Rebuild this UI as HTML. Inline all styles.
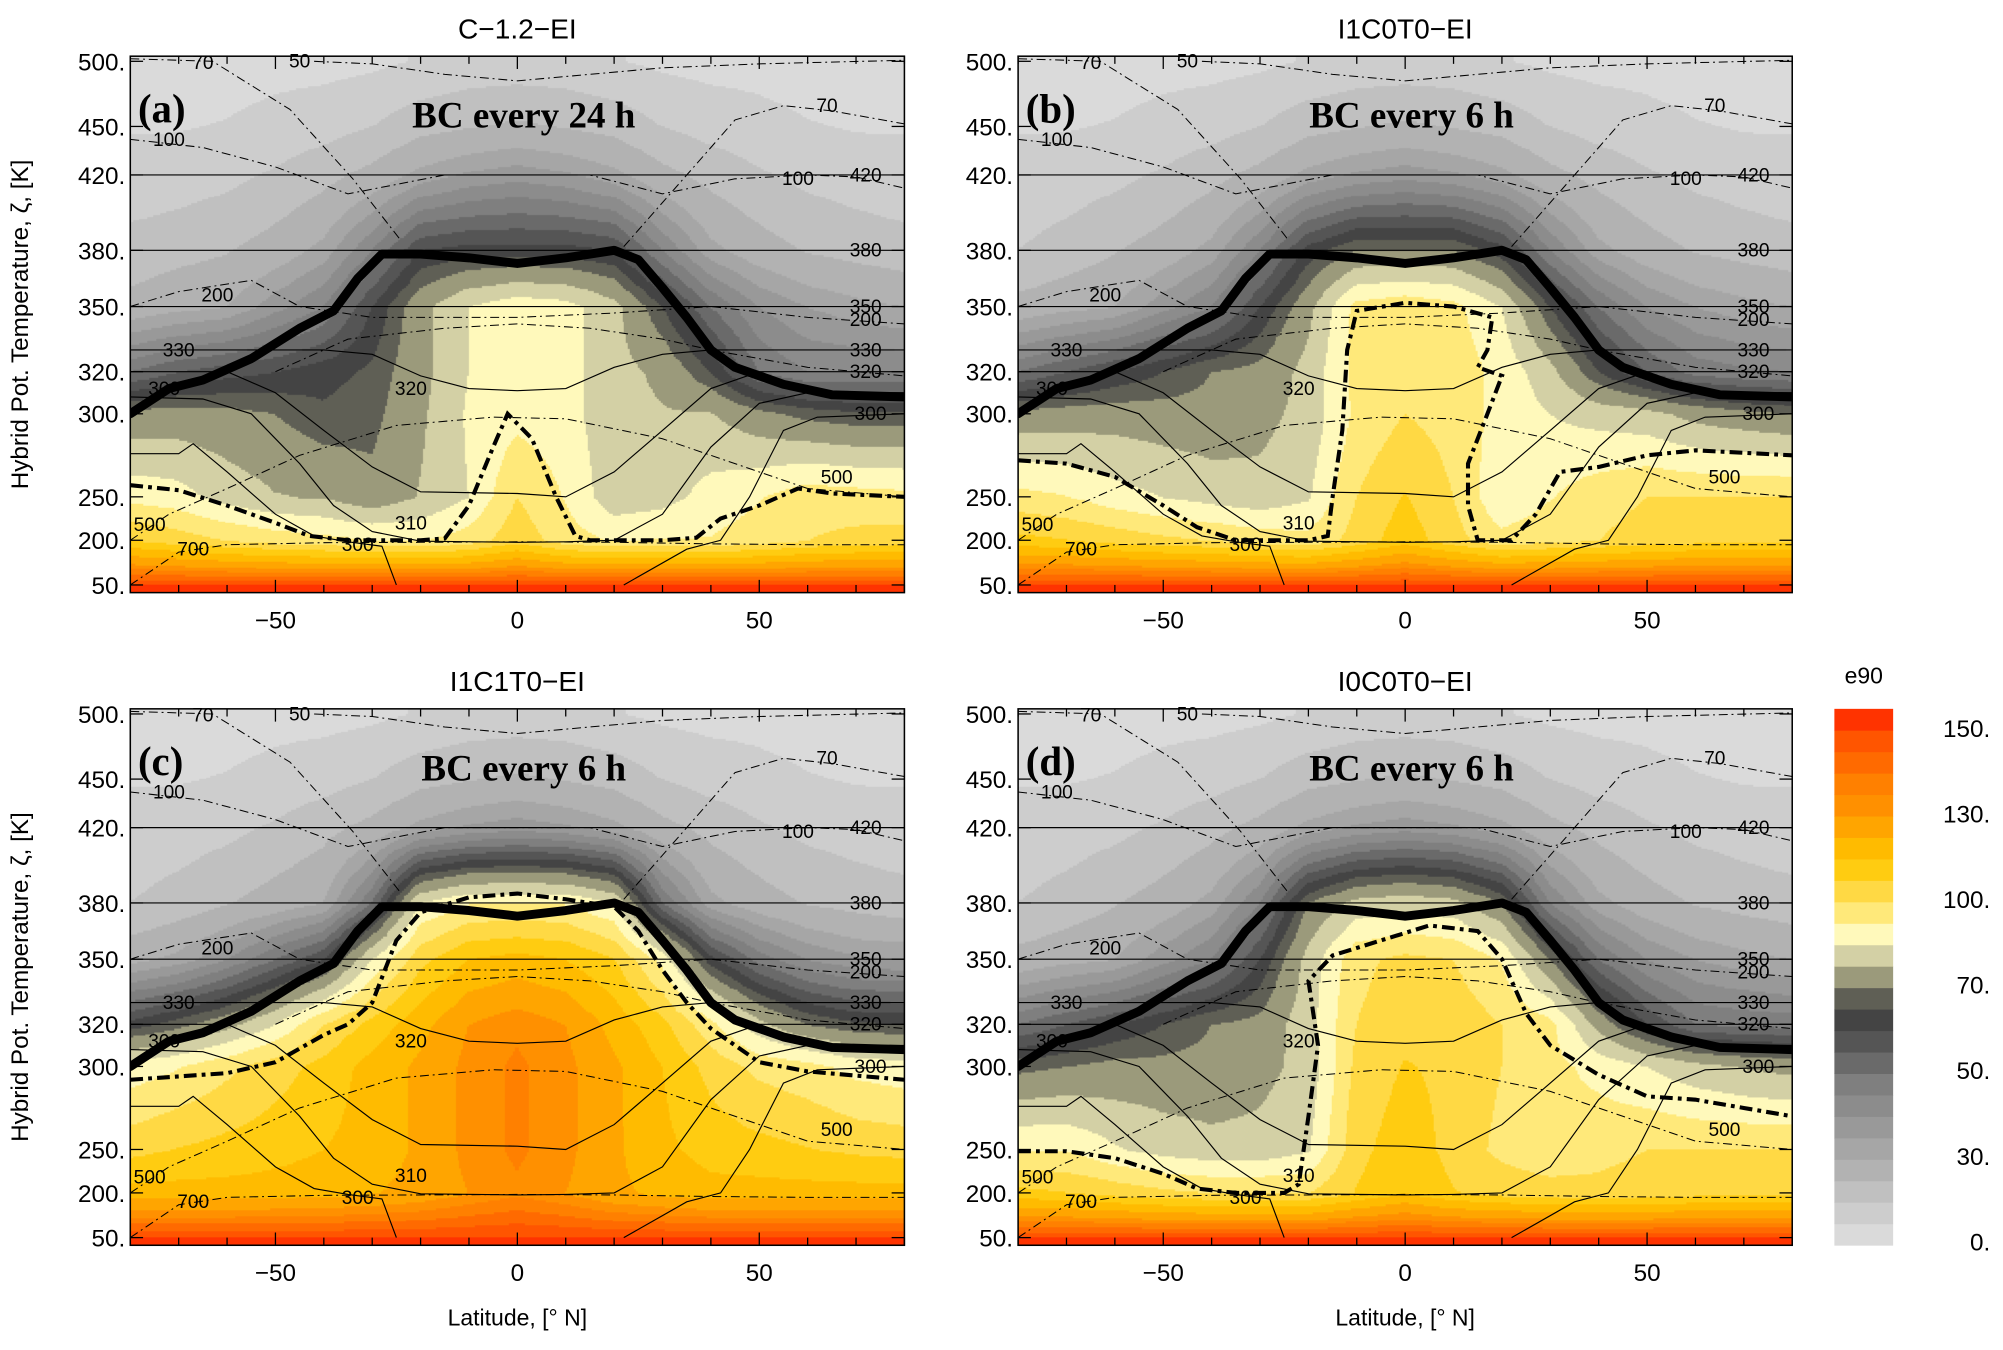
<!DOCTYPE html>
<html><head><meta charset="utf-8"><style>
html,body{margin:0;padding:0;background:#fff;}
#outer{width:2003px;height:1350px;overflow:hidden;position:relative;}
#inner{position:absolute;left:0;top:0;width:1568px;height:1057px;transform:scale(1.27742,1.27720);transform-origin:0 0;}
canvas{position:absolute;}
svg{position:absolute;left:0;top:0;}
</style></head><body>
<div id="outer"><div id="inner">
<canvas id="ca" width="775" height="537" style="left:102px;top:44px;width:606px;height:420px"></canvas>
<canvas id="cb" width="775" height="537" style="left:797px;top:44px;width:606px;height:420px"></canvas>
<canvas id="cc" width="775" height="537" style="left:102px;top:555px;width:606px;height:420px"></canvas>
<canvas id="cd" width="775" height="537" style="left:797px;top:555px;width:606px;height:420px"></canvas>
<svg id="ov" width="1568" height="1057" viewBox="0 0 1568 1057"></svg>
</div></div>
<script>
// ---- data ----
const lats=[-80,-70,-60,-50,-40,-30,-20,-10,0,10,20,30,40,50,60,70,80];
const zetaLevels=[50,200,250,300,320,350,380,420,450,500];
const rowTop500=[4,4,4,5,5,6,8,10,10,10,8,6,5,5,4,4,4];
const rowTop450=[7,7,8,10,12,15,20,22,24,22,20,15,12,10,8,7,7];
const rowTop420=[10,11,13,16,20,25,32,36,38,36,32,25,20,16,13,11,10];
const row50=[150,150,150,150,150,150,150,150,150,150,150,150,150,150,150,150,150];
const fieldA=[
row50,
[108,104,100,97,95,93,92,96,105,96,92,93,93,96,100,102,103],
[90,88,82,78,77,72,78,85,100,92,80,82,88,92,97,96,95],
[72,73,72,70,66,68,76,86,90,88,80,78,78,72,68,66,66],
[50,55,58,60,63,66,75,85,90,88,80,76,65,50,45,45,45],
[25,28,30,38,45,60,75,85,90,88,80,65,50,40,35,32,30],
[18,20,22,26,32,45,60,62,62,62,60,45,32,26,22,20,18],
rowTop420,rowTop450,rowTop500];
const fieldB=[
row50,
[110,108,105,102,100,97,95,103,112,103,95,98,100,103,105,105,105],
[95,93,88,85,82,80,84,100,108,100,86,92,97,100,100,100,100],
[72,73,74,73,72,75,80,94,100,97,90,85,82,80,75,72,70],
[50,55,60,65,70,72,80,95,100,97,90,80,65,55,48,46,45],
[25,28,30,38,45,60,75,95,98,95,85,65,50,40,35,32,30],
[15,18,22,26,32,45,62,70,70,70,62,45,32,26,22,20,18],
rowTop420,rowTop450,rowTop500];
const fieldC=[
row50,
[118,118,118,119,120,122,125,130,134,130,124,121,118,118,118,118,118],
[105,108,110,112,115,118,124,132,136,132,124,117,112,110,108,106,105],
[88,92,98,104,110,118,124,132,136,132,124,115,105,98,95,90,88],
[62,68,75,85,100,110,120,130,134,130,120,110,95,80,70,66,65],
[28,32,40,50,60,85,105,115,118,115,108,90,62,48,40,36,35],
[15,18,22,26,30,50,85,92,92,92,85,50,32,26,22,20,18],
rowTop420,rowTop450,rowTop500];
const fieldD=[
row50,
[110,108,105,102,100,100,100,108,115,108,105,103,102,103,105,105,105],
[92,92,86,82,80,80,84,105,112,105,98,95,98,100,100,100,100],
[68,70,72,72,72,75,80,102,108,106,100,95,90,85,80,77,75],
[50,55,60,65,70,72,82,100,105,105,100,95,75,60,50,49,48],
[25,28,30,38,45,60,80,98,102,100,92,70,50,40,35,32,30],
[15,18,22,26,32,45,70,80,82,80,70,45,32,26,22,20,18],
rowTop420,rowTop450,rowTop500];
const levels=[0,7.5,15,22.5,30,35,40,45,50,55,60,65,70,77.5,85,92.5,100,107.5,115,122.5,130,135,140,145,150];
const levelColors=['#dadada','#cdcdcd','#c0c0c0','#b2b2b2','#a6a6a6','#999999','#8c8c8c','#7f7f7f','#6a6a6a','#555555','#444444','#5f5f55','#9b9a7b','#d3d0a5','#fff9bb','#ffe97a','#ffd944','#ffcc11','#ffbb00','#ffa500','#ff9000','#ff8000','#ff6a00','#ff5500','#ff3300'];
const tropLat=[-80,-72,-65,-55,-45,-38,-33,-28,-20,-10,0,10,20,25,30,35,40,45,55,65,80];
const tropZeta=[300,312,316,326,340,348,365,378,378,376,373,376,380,375,360,345,330,322,314,309,308];
const e90aLat=[-80,-70,-60,-50,-43,-35,-20,-15,-10,-5,-2,3,8,12,15,30,37,42,50,58,65,80];
const e90aZeta=[257,254,240,220,205,200,200,202,240,280,300,285,250,205,200,200,203,225,240,255,252,250];
const e90bLat=[-80,-70,-60,-50,-43,-35,-20,-16,-15,-13,-12,-10,0,10,18,17,15,20,17,13,13,15,22,27,32,40,50,60,80];
const e90bZeta=[272,270,262,240,215,200,200,205,250,290,330,348,352,350,345,330,322,318,300,270,240,200,200,230,265,268,275,278,275];
const e90cLat=[-80,-60,-50,-40,-35,-30,-25,-20,-10,0,10,20,25,30,35,40,50,60,80];
const e90cZeta=[292,296,302,315,320,330,360,375,383,385,382,378,365,345,330,318,302,297,292];
const e90dLat=[-80,-70,-60,-50,-43,-35,-25,-22,-20,-18,-20,-15,-5,5,15,20,25,30,40,50,60,70,80];
const e90dZeta=[248,248,240,222,205,200,200,210,270,310,340,352,360,368,365,350,325,310,295,282,280,275,270];
const th330Lat=[-80,-40,-30,-20,-10,0,10,20,30,40,80];
const th330Zeta=[330,330,328,318,312,311,312,322,328,330,330];
const th320Lat=[-80,-60,-50,-40,-30,-20,0,10,20,30,40,50,80];
const th320Zeta=[320,320,310,290,268,253,252,250,265,290,312,320,320];
const th310Lat=[-80,-65,-55,-45,-38,-30,-20,0,10,20,30,40,50,60,80];
const th310Zeta=[308,307,300,270,240,210,197,193,195,200,230,280,305,310,310];
const th300LLat=[-80,-70,-67,-60,-50,-42,-35,-28,-25];
const th300LZeta=[276,276,282,265,230,205,195,180,50];
const th300RLat=[22,35,42,48,55,62,80];
const th300RZeta=[50,170,200,250,290,298,300];
const c50Lat=[-42,-30,-15,0,15,30,50,80];
const c50Zeta=[500,498,490,485,490,495,498,502];
const c70LLat=[-80,-63,-47,-34,-24];
const c70LZeta=[505,500,463,418,385];
const c70RLat=[22,35,45,55,65,80];
const c70RZeta=[382,420,455,466,462,452];
const c100Lat=[-80,-65,-50,-35,-15,0,15,30,45,60,70,80];
const c100Zeta=[442,437,425,410,420,420,420,410,418,420,419,413];
const c200Lat=[-80,-70,-55,-45,-30,-15,0,20,40,60,80];
const c200Zeta=[350,358,364,350,345,345,345,347,350,345,342];
const c330Lat=[-50,-35,-15,0,15,30,40,60,80];
const c330Zeta=[320,335,340,342,340,335,330,322,318];
const c500Lat=[-80,-72,-60,-45,-25,-5,10,30,45,60,80];
const c500Zeta=[200,230,255,275,293,298,297,285,270,255,250];
const c700Lat=[-80,-70,-60,-40,-20,0,20,40,60,80];
const c700Zeta=[50,160,185,192,193,195,193,188,185,185];
const yTickLabels=['500.','450.','420.','380.','350.','320.','300.','250.','200.','50.'];
const yTickVals=[500,450,420,380,350,320,300,250,200,50];
const xTickVals=[-50,0,50];
const cbLabels=['150.','130.','100.','70.','50.','30.','0.'];

// ---- axes ----
const PW=606,PH=420,LAT0=-80,LAT1=80;
const zAxisVals=[40,50,200,250,300,320,350,380,420,450,500,510];
const zAxisPix=[420,414,379,345,280,247,196,152,93,55,4,0];
function xs(lat){return (lat-LAT0)/(LAT1-LAT0)*PW;}
function ys(z){for(let i=0;i<zAxisVals.length-1;i++){if(z<=zAxisVals[i+1]||i==zAxisVals.length-2){const t=(z-zAxisVals[i])/(zAxisVals[i+1]-zAxisVals[i]);return zAxisPix[i]+t*(zAxisPix[i+1]-zAxisPix[i]);}}}
function colorOf(v){let k=0;for(let i=0;i<levels.length;i++){if(v>=levels[i])k=i;}return levelColors[k];}

function drawField(id,field){
 const cv=document.getElementById(id),ctx=cv.getContext('2d');
 const sx=cv.width/PW,sy=cv.height/PH;
 const rowY=zetaLevels.map(ys);
 const step=1.5;
 for(let py=0;py<PH;py+=step){
  let lo=-1;
  for(let i=0;i<rowY.length-1;i++){if(py<=rowY[i]&&py>=rowY[i+1]){lo=i;break;}}
  for(let px=0;px<PW;px+=step){
   const lat=LAT0+(px+step/2)/PW*(LAT1-LAT0);
   let j=Math.floor((lat-lats[0])/10);j=Math.max(0,Math.min(lats.length-2,j));
   const u=(lat-lats[j])/10;
   function rv(ri){const row=field[ri];return row[j]*(1-u)+row[j+1]*u;}
   let v;
   if(lo<0){v=py>rowY[0]?rv(0):rv(rowY.length-1);}
   else{const t=(rowY[lo]-py)/(rowY[lo]-rowY[lo+1]);v=rv(lo)*(1-t)+rv(lo+1)*t;}
   ctx.fillStyle=colorOf(v);
   ctx.fillRect(Math.floor(px*sx),Math.floor(py*sy),Math.ceil(step*sx)+1,Math.ceil(step*sy)+1);
  }
 }
}
drawField('ca',fieldA);drawField('cb',fieldB);drawField('cc',fieldC);drawField('cd',fieldD);

const NS='http://www.w3.org/2000/svg';
const svg=document.getElementById('ov');
function el(tag,attrs,parent){const e=document.createElementNS(NS,tag);for(const k in attrs)e.setAttribute(k,attrs[k]);(parent||svg).appendChild(e);return e;}
function txt(s,attrs,parent){const e=el('text',attrs,parent);e.textContent=s;return e;}
function pts(la,ze){return la.map((l,i)=>xs(l).toFixed(1)+','+ys(ze[i]).toFixed(1)).join(' ');}

const panels=[
 {ox:102,oy:44,title:'C−1.2−EI',letter:'(a)',bc:'BC every 24 h',eLat:e90aLat,eZ:e90aZeta,key:'a',xlab:false,ylab:true},
 {ox:797,oy:44,title:'I1C0T0−EI',letter:'(b)',bc:'BC every 6 h',eLat:e90bLat,eZ:e90bZeta,key:'b',xlab:false,ylab:false},
 {ox:102,oy:555,title:'I1C1T0−EI',letter:'(c)',bc:'BC every 6 h',eLat:e90cLat,eZ:e90cZeta,key:'c',xlab:true,ylab:true},
 {ox:797,oy:555,title:'I0C0T0−EI',letter:'(d)',bc:'BC every 6 h',eLat:e90dLat,eZ:e90dZeta,key:'d',xlab:true,ylab:false}];

panels.forEach(p=>{
 const g=el('g',{transform:`translate(${p.ox},${p.oy})`});
 
 
 const clip=el('clipPath',{id:'clip'+p.key},g);el('rect',{x:0,y:0,width:PW,height:PH},clip);
 const lg=el('g',{'clip-path':`url(#clip${p.key})`},g);
 [420,380,350].forEach(z=>{const l=el('line',{x1:0,x2:PW,y1:ys(z),y2:ys(z),stroke:'#000','stroke-width':0.9},lg);
  });
 const thin=[[th330Lat,th330Zeta,'theta-330'],[th320Lat,th320Zeta,'theta-320'],[th310Lat,th310Zeta,'theta-310'],[th300LLat,th300LZeta,'theta-300-left'],[th300RLat,th300RZeta,'theta-300-right']];
 thin.forEach(s=>{const l=el('polyline',{points:pts(s[0],s[1]),fill:'none',stroke:'#000','stroke-width':0.9},lg);
  });
 const dd=[[c50Lat,c50Zeta,'age-50'],[c70LLat,c70LZeta,'age-70-left'],[c70RLat,c70RZeta,'age-70-right'],[c100Lat,c100Zeta,'age-100'],[c200Lat,c200Zeta,'age-200'],[c330Lat,c330Zeta,'age-300'],[c500Lat,c500Zeta,'age-500'],[c700Lat,c700Zeta,'age-700']];
 dd.forEach(s=>{const l=el('polyline',{points:pts(s[0],s[1]),fill:'none',stroke:'#000','stroke-width':0.8,'stroke-dasharray':'7 3 1.5 3'},lg);
  });
 const e=el('polyline',{points:pts(p.eLat,p.eZ),fill:'none',stroke:'#000','stroke-width':3.2,'stroke-dasharray':'10 4 3 4'},lg);
 
 const tp=el('polyline',{points:pts(tropLat,tropZeta),fill:'none',stroke:'#000','stroke-width':7,'stroke-linejoin':'round','stroke-linecap':'round'},lg);
 
 const labs=[['420',72,420],['380',72,380],['350',72,350],['200',72,344],['330',72,330],['320',72,320],['300',73,300],['330',-70,330],['300',-73,312],['200',-62,356],['500',66,262],['500',-76,218],['700',-67,170],['310',-22,220],['320',-22,312],['300',-33,185],['70',-65,499],['70',64,466],['100',-72,442],['100',58,418],['50',-45,500]];
 labs.forEach(s=>{const t=txt(s[0],{x:xs(s[1]),y:ys(s[2])+5,'font-size':15,'font-family':'Liberation Sans, sans-serif','text-anchor':'middle'},g);
  });
 el('rect',{x:0,y:0,width:PW,height:PH,fill:'none',stroke:'#000','stroke-width':1.2},g);
 for(let la=-80;la<=80;la+=10){const x=xs(la),L=(la%50==0)?10:6;
  el('line',{x1:x,x2:x,y1:PH,y2:PH-L,stroke:'#000','stroke-width':1},g);
  el('line',{x1:x,x2:x,y1:0,y2:L,stroke:'#000','stroke-width':1},g);}
 yTickVals.forEach((z,i)=>{const y=ys(z);
  el('line',{x1:0,x2:10,y1:y,y2:y,stroke:'#000','stroke-width':1},g);
  el('line',{x1:PW,x2:PW-10,y1:y,y2:y,stroke:'#000','stroke-width':1},g);
  const t=txt(yTickLabels[i],{x:-4,y:y+7,'font-size':19,'font-family':'Liberation Sans, sans-serif','text-anchor':'end'},g);
  });
 xTickVals.forEach(v=>{const t=txt(v==0?'0':(v<0?'−'+(-v):String(v)),{x:xs(v),y:PH+28,'font-size':19,'font-family':'Liberation Sans, sans-serif','text-anchor':'middle'},g);
  });
 const tt=txt(p.title,{x:PW/2,y:-14,'font-size':22,'font-family':'Liberation Sans, sans-serif','text-anchor':'middle'},g);
 
 const lt=txt(p.letter,{x:6,y:52,'font-size':32,'font-weight':'bold','font-family':'Liberation Serif, serif'},g);
 
 const bt=txt(p.bc,{x:308,y:56,'font-size':29,'font-weight':'bold','font-family':'Liberation Serif, serif','text-anchor':'middle'},g);
 
 if(p.ylab){const yt=txt('Hybrid Pot. Temperature, ζ, [K]',{x:0,y:0,'font-size':19,'font-family':'Liberation Sans, DejaVu Sans, sans-serif','text-anchor':'middle',transform:`translate(-80,${PH/2}) rotate(-90)`},g);
  }
 if(p.xlab){const xt=txt('Latitude, [° N]',{x:PW/2,y:PH+63,'font-size':18,'font-family':'Liberation Sans, sans-serif','text-anchor':'middle'},g);
  }
});

const cb=el('g',{transform:'translate(1436,555)'});

const bh=420/levelColors.length;
levelColors.forEach((c,i)=>{const r=el('rect',{x:0,y:420-(i+1)*bh,width:46,height:bh+0.3,fill:c},cb);
 });
cbLabels.forEach((s,i)=>{const t=txt(s,{x:122,y:22+i*67,'font-size':19,'font-family':'Liberation Sans, sans-serif','text-anchor':'end'},cb);
 });
const ct=txt('e90',{x:23,y:-20,'font-size':18,'font-family':'Liberation Sans, sans-serif','text-anchor':'middle'},cb);

</script>
</body></html>
